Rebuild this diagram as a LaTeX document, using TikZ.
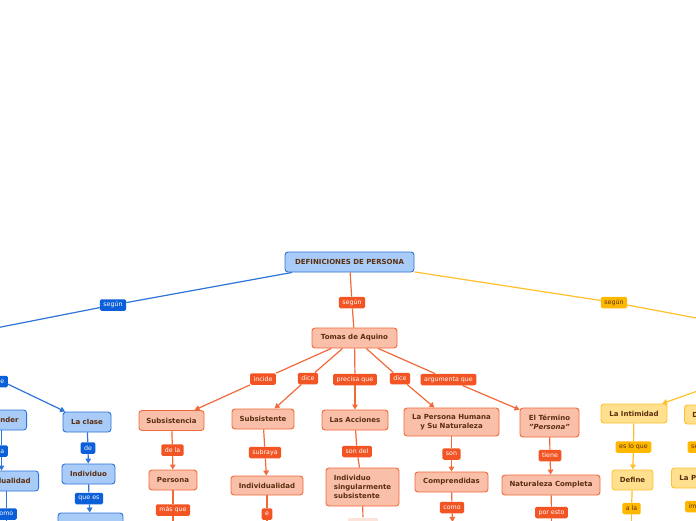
\documentclass[tikz,border=0pt]{standalone}
\usepackage{fontspec}
\setmainfont{DejaVu Sans}
\usetikzlibrary{arrows.meta}
\definecolor{bnode}{HTML}{A9CBF7}
\definecolor{bline}{HTML}{2F74DA}
\definecolor{blabc}{HTML}{0B5FD8}
\definecolor{onode}{HTML}{F9BFA9}
\definecolor{oline}{HTML}{F2693A}
\definecolor{olabc}{HTML}{F25424}
\definecolor{ynode}{HTML}{FFE08E}
\definecolor{yline}{HTML}{FFC02A}
\definecolor{ylabc}{HTML}{FFB800}
\definecolor{ntext}{HTML}{5A2E0E}
\definecolor{faint}{HTML}{FDE4DA}
\begin{document}
\begin{tikzpicture}[x=1pt,y=-1pt,
  box/.style={rectangle,rounded corners=3pt,line width=0.9pt,
    font=\fontsize{7}{9}\selectfont\bfseries,text=ntext,
    inner xsep=3pt,inner ysep=2pt,minimum height=20pt,align=center},
  bbox/.style={box,fill=bnode,draw=bline},
  obox/.style={box,fill=onode,draw=oline},
  ybox/.style={box,fill=ynode,draw=yline},
  lab/.style={rectangle,rounded corners=1.5pt,font=\fontsize{6.3}{7}\selectfont,
    inner xsep=3.5pt,inner ysep=1pt,minimum height=11.5pt,text=white},
  blab/.style={lab,fill=blabc},
  olab/.style={lab,fill=olabc},
  ylab/.style={lab,fill=ylabc,text=ntext},
  bl/.style={draw=bline,line width=1.2pt},
  ol/.style={draw=oline,line width=1.2pt},
  yl/.style={draw=yline,line width=1.2pt},
  arr/.style={-{Triangle[length=5pt,width=5.5pt]}},
]
\useasboundingbox (0,0) rectangle (696,520);
\fill[white] (0,0) rectangle (696,520);
\clip (0,0) rectangle (696,520);

% ---------- nodes ----------
\node[bbox,minimum width=129pt] (root) at (349.5,262) {DEFINICIONES DE PERSONA};
\node[blab] (bseg) at (113,305) {según};
\node[olab] (oseg) at (352,302.5) {según};
\node[ylab] (yseg) at (614,302.5) {según};
\coordinate (bend) at (-60,339);
\coordinate (yend) at (760,330);

\node[obox,minimum width=85pt] (tomas) at (354.5,338) {Tomas de Aquino};

\node[olab] (incide) at (263,379) {incide};
\node[olab] (dice1) at (308,378.5) {dice};
\node[olab] (precisa) at (355,379.5) {precisa que};
\node[olab] (dice2) at (400,378.5) {dice};
\node[olab] (argu) at (448.5,379.5) {argumenta que};

\node[obox,minimum width=65pt] (subsistencia) at (171.5,420.5) {Subsistencia};
\node[obox,minimum width=62pt] (subsistente) at (263,419) {Subsistente};
\node[obox,minimum width=66pt] (acciones) at (355,420) {Las Acciones};
\node[obox,minimum width=95pt,minimum height=28pt] (phumana) at (451.5,422) {La Persona Humana\\y Su Naturaleza};
\node[obox,minimum width=59pt,minimum height=29pt] (termino) at (549.5,422.5) {El Término\\\textit{"Persona"}};

\node[olab] (dela) at (172.5,450) {de la};
\node[olab] (subraya) at (265,452.5) {subraya};
\node[olab] (sondel) at (357,451.5) {son del};
\node[olab] (son) at (451.5,454) {son};
\node[olab] (tiene) at (550,455.5) {tiene};

\node[obox,minimum width=48pt] (persona) at (173,480) {Persona};
\node[obox,minimum width=72pt,minimum height=19pt] (individualidad) at (267,485.5) {Individualidad};
\node[obox,minimum width=73pt,minimum height=38pt,align=left] (isub) at (362.5,487) {Individuo\\singularmente\\subsistente};
\node[obox,minimum width=73pt] (compr) at (451.5,482) {Comprendidas};
\node[obox,minimum width=98pt] (natcomp) at (551,485) {Naturaleza Completa};

\node[olab] (masque) at (173,510) {más que};
\node[olab] (oe) at (267,514) {e};
\node[olab] (como) at (452,507.5) {como};
\node[olab] (poresto) at (551.5,512.5) {por esto};
\node[rectangle,fill=faint,minimum width=30pt,minimum height=11pt] (flab) at (363,523) {};
\coordinate (pdown) at (173,545);
\coordinate (idown) at (267,545);
\coordinate (cdown) at (452.5,522);
\coordinate (ndown) at (551.5,545);

% yellow
\coordinate (yp) at (740,376);
\node[ybox,minimum width=66pt,minimum height=19pt] (intim) at (634,413.5) {La Intimidad};
\node[ylab] (esloque) at (633.5,447) {es lo que};
\node[ybox,minimum width=41pt] (define) at (632.5,480) {Define};
\node[ylab] (ala) at (631.5,508.5) {a la};
\coordinate (adown) at (631.5,545);
\node[ybox,anchor=west,inner xsep=8pt,minimum height=19pt] (yd) at (684,414.5) {D};
\node[ylab,anchor=west] (yse) at (687.5,447) {se};
\node[ybox,anchor=west,inner xsep=8pt] (ylap) at (671,478) {La P};
\node[ylab,anchor=west] (yim) at (685,506.5) {im};

% blue
\node[blab,anchor=east] (be) at (8,381.5) {e};
\node[bbox,minimum width=48pt] (laclase) at (87,422) {La clase};
\node[blab] (de) at (88,448) {de};
\node[bbox,minimum width=53pt] (indiv) at (88.5,474) {Individuo};
\node[blab] (quees) at (89,498.5) {que es};
\node[bbox,minimum width=65pt] (bbot) at (90.5,523) {};
\node[bbox,anchor=east,inner xsep=8pt] (ender) at (27,420) {ender};
\node[blab,anchor=east] (la) at (8,451) {la};
\node[bbox,anchor=east,inner xsep=8pt] (dual) at (39,481) {dualidad};
\node[blab,anchor=east] (omo) at (17,514) {omo};
\coordinate (odown) at (4,545);

% ---------- connectors ----------
\draw[bl] (root) -- (bseg);
\draw[bl] (bseg) -- (bend);
\draw[ol] (root) -- (oseg);
\draw[ol] (oseg) -- (tomas);
\draw[yl] (root) -- (yseg);
\draw[yl] (yseg) -- (yend);

\draw[ol] (tomas) -- (incide);
\draw[ol,arr] (incide) -- (subsistencia);
\draw[ol] (tomas) -- (dice1);
\draw[ol,arr] (dice1) -- (subsistente);
\draw[ol] (tomas) -- (precisa);
\draw[ol,arr] (precisa) -- (acciones);
\draw[ol] (tomas) -- (dice2);
\draw[ol,arr] (dice2) -- (phumana);
\draw[ol] (tomas) -- (argu);
\draw[ol,arr] (argu) -- (termino);

\draw[ol] (subsistencia) -- (dela);
\draw[ol,arr] (dela) -- (persona);
\draw[ol] (subsistente) -- (subraya);
\draw[ol,arr] (subraya) -- (individualidad);
\draw[ol] (acciones) -- (sondel);
\draw[ol] (sondel) -- (isub);
\draw[ol] (phumana) -- (son);
\draw[ol,arr] (son) -- (compr);
\draw[ol] (termino) -- (tiene);
\draw[ol,arr] (tiene) -- (natcomp);

\draw[ol] (persona) -- (masque);
\draw[ol] (masque) -- (pdown);
\draw[ol] (individualidad) -- (oe);
\draw[ol] (oe) -- (idown);
\draw[ol] (isub) -- (flab);
\draw[ol] (compr) -- (como);
\draw[ol,arr] (como) -- (cdown);
\draw[ol] (natcomp) -- (poresto);
\draw[ol] (poresto) -- (ndown);

\draw[yl,arr] (yp) -- (intim);
\draw[yl] (intim) -- (esloque);
\draw[yl,arr] (esloque) -- (define);
\draw[yl] (define) -- (ala);
\draw[yl] (ala) -- (adown);

\draw[bl,arr] (be) -- (laclase);
\draw[bl] (laclase) -- (de);
\draw[bl,arr] (de) -- (indiv);
\draw[bl] (indiv) -- (quees);
\draw[bl,arr] (quees) -- (bbot);
\draw[bl] (la |- ender.south) -- (la);
\draw[bl,arr] (la) -- (la |- dual.north);
\draw[bl] (omo |- dual.south) -- (omo);
\draw[bl] (omo) -- (omo |- odown);
\end{tikzpicture}
\end{document}
